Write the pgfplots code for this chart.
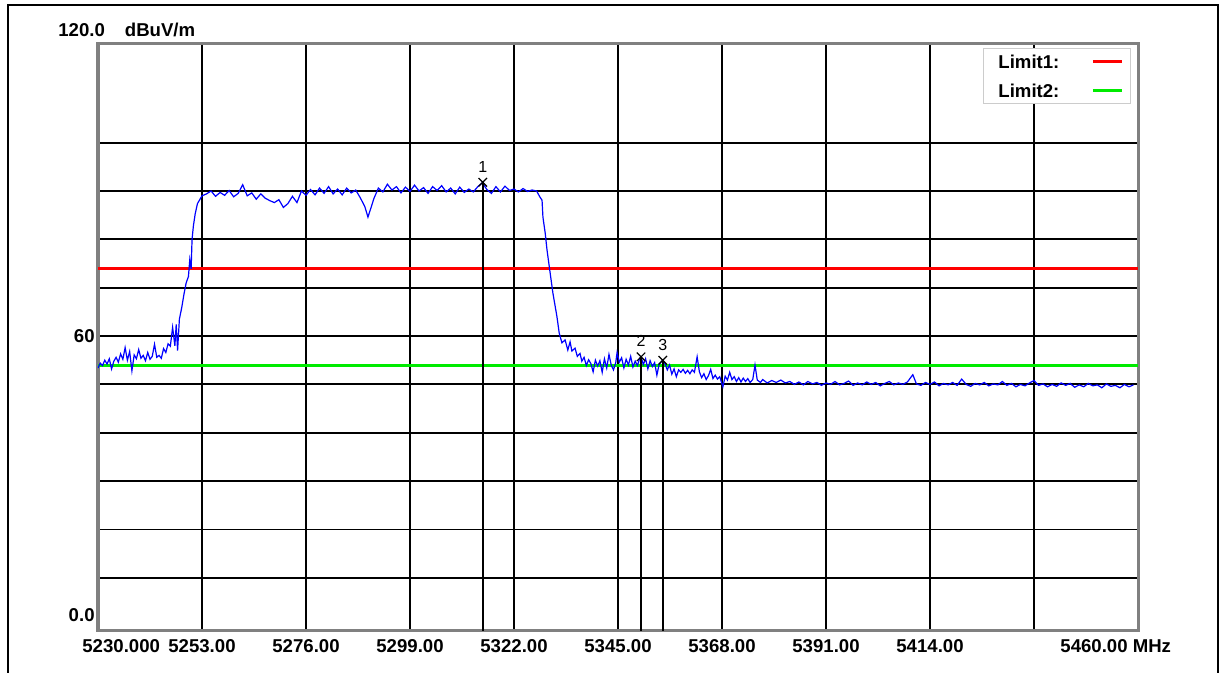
\documentclass[border=0pt]{standalone}
\usepackage{pgfplots}
\pgfplotsset{compat=1.18}
\usepackage{fontspec}
\setmainfont{Liberation Sans}
\definecolor{limgreen}{RGB}{0,235,0}
\definecolor{limred}{RGB}{255,0,0}
\definecolor{trace}{RGB}{0,0,255}
\newcommand{\lbl}{\fontsize{9.3}{11}\selectfont\bfseries}
\pgfplotstableread{
f v
5230.0 53.4
5230.5 54.4
5231.0 53.9
5231.5 55.0
5232.0 54.2
5232.5 55.3
5233.0 53.2
5233.5 54.8
5234.0 55.6
5234.5 54.6
5235.0 56.3
5235.5 55.2
5236.0 57.6
5236.5 55.0
5237.0 56.8
5237.5 52.8
5238.0 56.1
5238.5 55.3
5239.0 57.2
5239.5 55.4
5240.0 56.0
5240.5 54.9
5241.0 56.6
5241.5 55.2
5242.0 55.8
5242.5 58.3
5243.0 55.6
5243.5 56.0
5244.0 55.4
5244.5 57.4
5245.0 56.6
5245.5 58.4
5246.0 57.9
5246.5 61.8
5247.0 58.0
5247.3 62.4
5247.6 57.0
5248.0 63.5
5248.5 65.8
5249.0 68.6
5249.5 71.0
5250.0 72.3
5250.3 75.8
5250.6 73.9
5250.8 80.0
5251.1 82.8
5251.5 85.3
5252.0 87.4
5252.5 88.2
5253.0 89.0
5254 89.4
5255 90.0
5256 88.9
5257 89.7
5258 89.1
5259 90.1
5260 88.8
5261 89.5
5262 91.3
5263 89.0
5264 89.6
5265 88.3
5266 89.4
5267 88.5
5268 88.0
5269 87.6
5270 88.2
5271 86.6
5272 87.4
5273 88.9
5274 87.6
5275 90.0
5276 89.1
5277 90.3
5278 89.2
5279 90.6
5280 89.5
5281 90.9
5282 89.4
5283 90.4
5284 89.2
5285 90.6
5286 89.6
5287 90.2
5288 88.6
5289 86.8
5289.7 84.6
5290.5 86.9
5291 88.4
5292 90.6
5293 89.8
5294 91.4
5295 90.2
5296 90.9
5297 89.6
5298 90.8
5299 89.9
5300 91.2
5301 90.0
5302 90.7
5303 89.5
5304 90.9
5305 90.1
5306 91.1
5307 89.8
5308 90.6
5309 89.4
5310 90.8
5311 89.7
5312 90.4
5313 89.8
5314 90.9
5315 91.7
5316 90.3
5317 89.5
5318 90.9
5319 89.8
5320 91.0
5321 90.1
5322 90.4
5323 89.8
5324 90.5
5325 89.9
5326 90.2
5327 90.0
5327.7 88.8
5328.2 88.1
5328.4 84.6
5328.9 81.3
5329.3 77.8
5330.0 73.0
5330.6 68.9
5331.5 64.0
5332.0 60.6
5332.6 58.6
5333.3 59.2
5333.9 57.1
5334.4 58.8
5334.8 56.9
5335.5 57.5
5336.0 55.8
5336.6 56.4
5337.0 54.8
5337.5 55.6
5338.0 53.9
5338.5 55.1
5339.0 54.3
5339.5 52.6
5340.0 55.0
5340.5 53.8
5341.0 54.9
5341.5 52.5
5342.0 55.3
5342.5 53.4
5343.0 56.2
5343.5 54.0
5344.0 53.0
5344.5 54.5
5344.8 56.6
5345.3 54.6
5345.8 55.5
5346.3 53.4
5346.8 55.2
5347.3 54.0
5347.8 55.8
5348.3 53.6
5348.8 54.8
5349.3 53.9
5349.8 55.4
5350.1 55.7
5350.6 54.1
5351.1 55.3
5351.6 53.2
5352.1 54.9
5352.6 53.7
5353.1 54.5
5353.6 51.9
5354.1 54.2
5354.9 55.0
5355.4 54.3
5355.9 53.0
5356.4 54.0
5356.9 52.1
5357.4 53.2
5357.9 51.6
5358.4 53.0
5358.9 52.5
5359.4 53.1
5359.9 52.3
5360.4 52.9
5360.9 52.2
5361.4 53.0
5361.9 52.5
5362.5 55.7
5363.0 52.6
5363.5 51.4
5364.0 52.2
5364.5 51.0
5365.0 51.8
5365.5 53.1
5366.0 51.2
5366.5 51.9
5367.0 51.1
5367.5 51.6
5368.2 49.5
5368.7 51.7
5369.2 50.9
5369.7 52.5
5370.2 51.0
5370.7 51.6
5371.2 50.6
5371.7 51.4
5372.2 50.5
5372.7 51.3
5373.2 50.6
5373.7 51.2
5374.2 50.4
5374.8 51.0
5375.3 54.0
5375.8 50.9
5376.5 50.4
5377.0 51.0
5378.0 50.3
5379.0 50.8
5380.0 50.4
5381.0 50.9
5382.0 50.3
5383.0 50.6
5384.0 50.0
5385.0 50.5
5386.0 49.9
5387.0 50.6
5388.0 50.1
5389.0 50.4
5390.0 49.8
5391.0 50.3
5392.0 50.0
5393.0 50.6
5394.0 49.9
5395.0 50.2
5396.0 50.7
5397.0 49.8
5398.0 50.3
5399.0 49.9
5400.0 50.5
5401.0 50.0
5402.0 50.4
5403.0 49.7
5404.0 50.2
5405.0 50.6
5406.0 49.9
5407.0 50.3
5408.0 50.0
5409.0 50.5
5410.2 52.0
5411.0 50.1
5412.0 49.8
5413.0 50.4
5414.0 50.0
5415.0 50.5
5416.0 49.7
5417.0 50.2
5418.0 49.9
5419.0 50.4
5420.0 49.8
5421.0 51.1
5422.0 50.0
5423.0 49.6
5424.0 50.2
5425.0 49.9
5426.0 50.4
5427.0 49.7
5428.0 50.1
5429.0 49.9
5430.0 50.6
5431.0 49.8
5432.0 50.2
5433.0 49.5
5434.0 50.0
5435.0 49.7
5436.0 50.3
5437.0 50.8
5438.0 49.8
5439.0 50.1
5440.0 49.5
5441.0 50.0
5442.0 49.6
5443.0 50.3
5444.0 49.8
5445.0 50.2
5446.0 49.4
5447.0 49.9
5448.0 49.5
5449.0 50.2
5450.0 49.7
5451.0 49.9
5452.0 49.3
5453.0 50.1
5454.0 49.6
5455.0 49.8
5456.0 49.3
5457.0 50.0
5458.0 49.5
5459.0 49.9
}\tracedata
\begin{document}
\begin{tikzpicture}[font=\lbl]
\path[use as bounding box] (0,0) rectangle (610.5pt,336.5pt);
\draw[line width=1pt] (4pt,-2pt) -- (4pt,334pt) -- (609pt,334pt) -- (609pt,-2pt);
\begin{axis}[
  at={(49pt,21pt)}, anchor=south west,
  width=520pt, height=293.5pt, scale only axis,
  xmin=5230, xmax=5460, ymin=-1, ymax=120.4,
  xtick={5253,5276,5299,5322,5345,5368,5391,5414,5437},
  xticklabels={5253.00,5276.00,5299.00,5322.00,5345.00,5368.00,5391.00,5414.00,{}},
  ytick={10,20,30,40,50,60,70,80,90,100},
  yticklabels={,,,,,60,,,,},
  grid=major,
  major grid style={black, line width=0.9pt},
  axis line style={gray, line width=1.5pt},
  major tick length=0pt,
  tick label style={font=\lbl, inner sep=0pt},
  xticklabel style={anchor=base, yshift=-11pt},
  yticklabel style={anchor=east, xshift=-1.5pt},
  legend plot pos=right,
  legend cell align=left,
  legend image code/.code={\draw[#1, line width=1.5pt] (0pt,0pt) -- (14.5pt,0pt);},
  legend style={at={(rel axis cs:1,1)}, anchor=north east, xshift=-3.5pt, yshift=-2pt,
    draw=gray!40, line width=0.6pt, fill=white, font=\lbl,
    inner xsep=3.5pt, inner ysep=3pt, row sep=7.5pt, column sep=16pt,
    nodes={inner sep=0pt, text height=7pt, text depth=0pt}},
]
\addplot[limred, line width=1.5pt] coordinates {(5230,74) (5460,74)};
\addlegendentry{\hspace{4pt}Limit1:}
\addplot[limgreen, line width=1.5pt] coordinates {(5230,54) (5460,54)};
\addlegendentry{\hspace{4pt}Limit2:}
\addplot[trace, line width=0.6pt, forget plot] table[x=f, y=v] {\tracedata};
\addplot[black, line width=0.75pt, forget plot] coordinates {(5315.1,91.8) (5315.1,-1)};
\addplot[black, line width=0.75pt, forget plot] coordinates {(5350.1,55.7) (5350.1,-1)};
\addplot[black, line width=0.75pt, forget plot] coordinates {(5354.9,55.0) (5354.9,-1)};
\addplot[black, only marks, mark=x, mark size=3pt, line width=0.6pt, forget plot]
  coordinates {(5315.1,91.8) (5350.1,55.7) (5354.9,55.0)};
\node[font=\fontsize{8}{9}\selectfont, anchor=base] at (axis cs:5315.1,91.8) [yshift=5pt] {1};
\node[font=\fontsize{8}{9}\selectfont, anchor=base] at (axis cs:5350.1,55.7) [yshift=5pt] {2};
\node[font=\fontsize{8}{9}\selectfont, anchor=base] at (axis cs:5354.9,55.0) [yshift=5pt] {3};
\end{axis}
\node[anchor=base west, inner sep=0pt] at (29pt,318pt) {120.0\hspace{10pt}dBuV/m};
\node[anchor=east, inner sep=0pt] at (47.5pt,29pt) {0.0};
\node[anchor=base west, inner sep=0pt] at (41pt,10pt) {5230.000};
\node[anchor=base west, inner sep=0pt] at (530pt,10pt) {5460.00 MHz};
\end{tikzpicture}
\end{document}
